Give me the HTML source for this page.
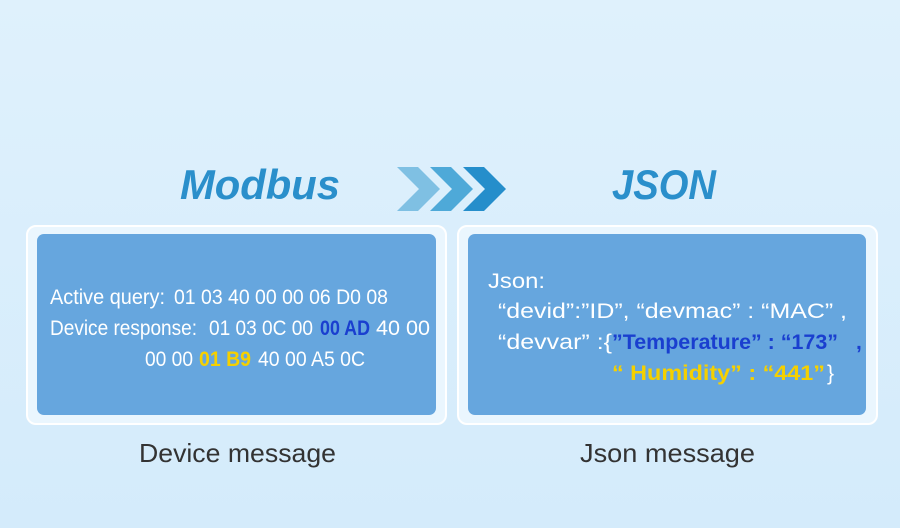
<!DOCTYPE html>
<html><head><meta charset="utf-8"><style>
html,body{margin:0;padding:0}
body{width:900px;height:528px;overflow:hidden;background:#d8edfb}
svg{display:block}
</style></head><body>
<svg width="900" height="528" viewBox="0 0 900 528" xmlns="http://www.w3.org/2000/svg" font-family="Liberation Sans, sans-serif">
<defs><linearGradient id="bg" x1="0" y1="0" x2="0" y2="1"><stop offset="0" stop-color="#dff1fc"/><stop offset="1" stop-color="#d4ebfb"/></linearGradient></defs>
<rect width="900" height="528" fill="url(#bg)"/>
<text x="180" y="199" font-size="42" font-weight="bold" font-style="italic" fill="#2a8fcb" textLength="160" lengthAdjust="spacingAndGlyphs">Modbus</text>
<text x="612" y="199" font-size="42" font-weight="bold" font-style="italic" fill="#2a8fcb" textLength="104" lengthAdjust="spacingAndGlyphs">JSON</text>
<polygon points="397,167 418,167 440,189 418,211 397,211 419,189" fill="#7fc0e3"/>
<polygon points="430,167 451,167 473,189 451,211 430,211 452,189" fill="#4ea9d8"/>
<polygon points="463,167 484,167 506,189 484,211 463,211 485,189" fill="#258ecb"/>
<rect x="27" y="226" width="419" height="198" rx="9" fill="#eaf6fe" stroke="#fff" stroke-width="2"/>
<rect x="37" y="234" width="399" height="181" rx="7" fill="#66a6de"/>
<rect x="458" y="226" width="419" height="198" rx="9" fill="#eaf6fe" stroke="#fff" stroke-width="2"/>
<rect x="468" y="234" width="398" height="181" rx="7" fill="#66a6de"/>
<g font-size="21" fill="#fff">
<text x="50" y="304" textLength="115" lengthAdjust="spacingAndGlyphs">Active query:</text>
<text x="174" y="304" textLength="214" lengthAdjust="spacingAndGlyphs">01 03 40 00 00 06 D0 08</text>
<text x="50" y="335" textLength="147" lengthAdjust="spacingAndGlyphs">Device response:</text>
<text x="209" y="335" textLength="104" lengthAdjust="spacingAndGlyphs">01 03 0C 00</text>
<text x="320" y="335" textLength="50" lengthAdjust="spacingAndGlyphs" fill="#1a3fcf" font-weight="bold">00 AD</text>
<text x="376" y="335" textLength="54" lengthAdjust="spacingAndGlyphs">40 00</text>
<text x="145" y="366" textLength="48" lengthAdjust="spacingAndGlyphs">00 00</text>
<text x="199" y="366" textLength="52" lengthAdjust="spacingAndGlyphs" fill="#f5d000" font-weight="bold">01 B9</text>
<text x="258" y="366" textLength="107" lengthAdjust="spacingAndGlyphs">40 00 A5 0C</text>
<text x="488" y="288" textLength="57" lengthAdjust="spacingAndGlyphs">Json:</text>
<text x="498" y="318" textLength="349" lengthAdjust="spacingAndGlyphs">“devid”:”ID”, “devmac” : “MAC” ,</text>
<text x="498" y="349" textLength="114" lengthAdjust="spacingAndGlyphs">“devvar” :{</text>
<text x="612" y="349" textLength="226" lengthAdjust="spacingAndGlyphs" fill="#1a3fcf" font-weight="bold">”Temperature” : “173”</text>
<text x="856" y="349" fill="#1a3fcf" font-weight="bold">,</text>
<text x="612" y="380" textLength="213" lengthAdjust="spacingAndGlyphs" fill="#f5d000" font-weight="bold">“ Humidity” : “441”</text>
<text x="827" y="380">}</text>
</g>
<text x="139" y="462" font-size="26" fill="#333" textLength="197" lengthAdjust="spacingAndGlyphs">Device message</text>
<text x="580" y="462" font-size="26" fill="#333" textLength="175" lengthAdjust="spacingAndGlyphs">Json message</text>
</svg>
</body></html>
